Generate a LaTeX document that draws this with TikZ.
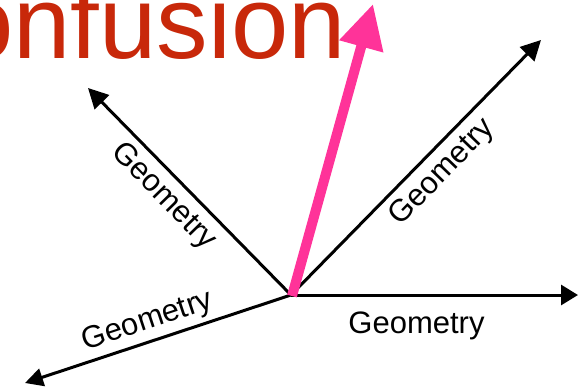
\documentclass[tikz,border=0pt]{standalone}
\usepackage{fontspec}
\setmainfont{Liberation Sans}
\usetikzlibrary{arrows.meta}
\definecolor{titlered}{HTML}{C8280A}
\definecolor{hotpink}{HTML}{FF3399}
\tikzset{
  axisarrow/.style={line width=3pt,draw=black,-{Triangle[length=20pt,width=20pt]}},
  pinkarrow/.style={line width=10pt,draw=hotpink,-{Triangle[length=44pt,width=43pt]}},
  lbl/.style={font=\fontsize{31}{31}\selectfont,inner sep=0pt,anchor=base},
}
\begin{document}
\begin{tikzpicture}[x=1pt,y=-1pt]
\clip (0,0) rectangle (579,391);
\fill[white] (0,0) rectangle (579,391);
\node[anchor=base east,inner sep=0pt,text=titlered,font=\fontsize{103}{103}\selectfont] (title) at (346,58) {onfusion};
\coordinate (O) at (291,295);
\coordinate (R) at (578,295);
\coordinate (UR) at (541,40);
\coordinate (UL) at (88,88);
\coordinate (LL) at (25,383);
\coordinate (P) at (373,4);
\coordinate (P0) at (292,296);
\draw[axisarrow,-{Triangle[length=17pt,width=20pt]}] (O) -- (R);
\draw[axisarrow] (O) -- (UR);
\draw[axisarrow] (O) -- (UL);
\draw[axisarrow,-{Triangle[length=18pt,width=18pt]}] (O) -- (LL);
\draw[pinkarrow] (P0) -- (P);
\node[lbl] (lr) at (416.5,333) {Geometry};
\node[lbl,rotate=46] (lur) at (448,178) {Geometry};
\node[lbl,rotate=-45.6] (lul) at (158,202) {Geometry};
\node[lbl,rotate=18.3] (lll) at (150,329) {Geometry};
\end{tikzpicture}
\end{document}
